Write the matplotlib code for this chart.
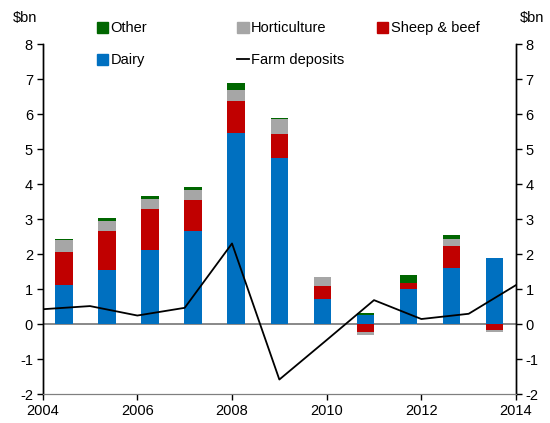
import numpy as np
import matplotlib
matplotlib.use("Agg")
import matplotlib.pyplot as plt
from matplotlib.patches import Patch
from matplotlib.lines import Line2D

plt.rcParams['font.family'] = ['Liberation Sans', 'DejaVu Sans']
plt.rcParams['font.size'] = 10.5
plt.rcParams['axes.unicode_minus'] = False

# annual bars, 2004-2014
bar_years = [2004, 2005, 2006, 2007, 2008, 2009, 2010, 2011, 2012, 2013, 2014]
dairy = [1.12, 1.55, 2.13, 2.66, 5.47, 4.74, 0.72, 0.27, 1.01, 1.61, 1.89]
sheep_beef = [0.95, 1.12, 1.16, 0.89, 0.92, 0.71, 0.37, -0.21, 0.18, 0.64, -0.16]
horticulture = [0.34, 0.28, 0.30, 0.29, 0.32, 0.41, 0.26, -0.10, -0.03, 0.19, -0.06]
other = [0.03, 0.09, 0.07, 0.08, 0.20, 0.05, 0.01, 0.04, 0.22, 0.12, 0.0]

# farm deposits line
dep_years = [2004, 2005, 2006, 2007, 2008, 2009, 2010, 2011, 2012, 2013, 2014]
farm_deposits = [0.43, 0.52, 0.25, 0.47, 2.31, -1.58, -0.45, 0.69, 0.15, 0.30, 1.12]

c_dairy = '#0070C0'
c_sheep = '#C00000'
c_hort = '#A6A6A6'
c_other = '#006600'

fig = plt.figure(figsize=(5.5, 4.23), dpi=100)
ax = fig.add_axes([0.0776, 0.068, 0.8606, 0.827])

# stacked bars, positives up from zero, negatives down from zero
idx = np.arange(len(bar_years))
pos_base = np.zeros(len(idx))
neg_base = np.zeros(len(idx))
for vals, col in [(dairy, c_dairy), (sheep_beef, c_sheep), (horticulture, c_hort), (other, c_other)]:
    v = np.array(vals)
    bottom = np.where(v >= 0, pos_base, neg_base)
    ax.bar(idx, v, width=0.41, bottom=bottom, color=col, edgecolor='none', zorder=2)
    pos_base = pos_base + np.where(v > 0, v, 0)
    neg_base = neg_base + np.where(v < 0, v, 0)

ax.set_xlim(-0.5, len(idx) - 0.5)
ax.set_ylim(-2, 8)
ax.axhline(0, color='#7f7f7f', lw=1.3, zorder=1)
ax.set_xticks([])

# line on a year axis
ax2 = ax.twiny()
ax2.plot(dep_years, farm_deposits, color='black', lw=1.3)
ax2.set_xlim(2004, 2014)
ax2.set_xticks(range(2004, 2015, 2))
ax2.xaxis.set_ticks_position('bottom')
ax2.xaxis.set_label_position('bottom')
ax2.tick_params(axis='x', direction='out', length=4, width=1, pad=3)

ax.set_yticks(range(-2, 9))
ax.tick_params(axis='y', which='both', left=True, right=True, labelleft=True, labelright=True,
               direction='out', length=4, width=1, pad=3)

for a in (ax, ax2):
    a.spines['top'].set_visible(False)
    a.spines['bottom'].set_color('#7f7f7f')
    a.spines['left'].set_linewidth(1)
    a.spines['right'].set_linewidth(1)

fig.text(0.045, 0.958, '$bn', ha='center', va='center')
fig.text(0.968, 0.958, '$bn', ha='center', va='center')

# legend, three fixed columns
leg_kw = dict(loc='upper left', frameon=False, borderpad=0, borderaxespad=0,
              handlelength=0.8, handleheight=0.8, handletextpad=0.15, labelspacing=1.25)
fig.legend([Patch(color=c_other), Patch(color=c_dairy)], ['Other', 'Dairy'],
           bbox_to_anchor=(0.176, 0.95), **leg_kw)
fig.legend([Patch(color=c_hort), Line2D([], [], color='black', lw=1.3)], ['Horticulture', 'Farm deposits'],
           bbox_to_anchor=(0.431, 0.95), **leg_kw)
fig.legend([Patch(color=c_sheep)], ['Sheep & beef'],
           bbox_to_anchor=(0.685, 0.95), **leg_kw)

fig.savefig('out.png', dpi=100)
